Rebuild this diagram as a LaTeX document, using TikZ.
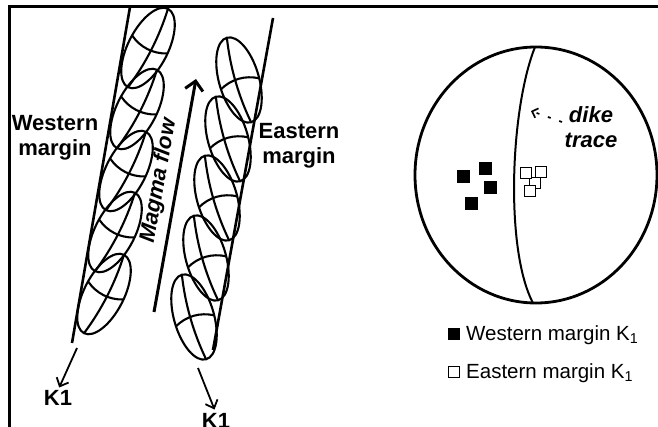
\documentclass[tikz,border=0pt]{standalone}
\usepackage{fontspec}
\setmainfont{Liberation Sans}
\usetikzlibrary{arrows.meta}

\begin{document}
\begin{tikzpicture}[x=1pt,y=-1pt,
  elip/.style={line width=2.1pt},
  rotulo/.style={font=\fontsize{22}{25}\selectfont\bfseries, align=center, inner sep=0pt},
  cursiva/.style={font=\fontsize{22}{25}\selectfont\bfseries\itshape, align=center, inner sep=0pt},
  leyenda/.style={font=\fontsize{20.5}{24}\selectfont, anchor=base west, inner sep=0pt},
  cuadro/.style={draw, minimum size=11pt, inner sep=0pt, line width=1pt}]
\useasboundingbox (0,0) rectangle (658,427);
% Marco
\draw[line width=3pt] (9,427) -- (9,7) -- (658,7);
% Bordes del dique
\coordinate (wn) at (130,7);
\coordinate (ws) at (72,343);
\coordinate (en) at (273,18);
\coordinate (es) at (213,350);
\draw[line width=2.6pt] (wn) -- (ws);
\draw[line width=2.6pt] (en) -- (es);
% Elipses del margen oeste
\foreach \cx/\cy in {148/48,137/109,126/171,115/232,104/294} {
  \begin{scope}[shift={(\cx,\cy)},rotate=63]
    \draw[elip] (0,0) ellipse [x radius=44,y radius=20];
    \draw[elip] (-44,0) .. controls (-15,5) and (15,5) .. (44,0);
    \draw[elip] (4,-20) .. controls (-3,-7) and (-3,7) .. (4,20);
  \end{scope}
}
% Elipses del margen este
\foreach \cx/\cy in {239/80,228/139,217/198,206/258,194/317} {
  \begin{scope}[shift={(\cx,\cy)},rotate=106]
    \draw[elip] (0,0) ellipse [x radius=44,y radius=20];
    \draw[elip] (-44,0) .. controls (-15,-5) and (15,-5) .. (44,0);
    \draw[elip] (-4,-20) .. controls (3,-7) and (3,7) .. (-4,20);
  \end{scope}
}
% Flujo
\coordinate (fa) at (154,312);
\coordinate (fb) at (196,79);
\draw[line width=3pt, -{Straight Barb[length=9pt,width=18pt]}] (fa) -- (fb);
\node[cursiva, rotate=80] (mf) at (159,181) {Magma flow};
% Rotulos de los margenes
\node[rotulo] (wm) at (55,138) {Western\\margin};
\node[rotulo] (em) at (299,146) {Eastern\\margin};
% K1
\coordinate (ka) at (77,348);
\node[rotulo] (k1w) at (58,398) {K1};
\draw[line width=1.8pt, -{Straight Barb[length=7pt,width=13pt]}, shorten >=3pt] (ka) -- (k1w.north);
\coordinate (kb) at (198,368);
\node[rotulo] (k1e) at (216,421) {K1};
\draw[line width=1.8pt, -{Straight Barb[length=7pt,width=13pt]}, shorten >=4pt] (kb) -- (k1e.north);
% Estereograma
\draw[line width=2.8pt] (536,175) ellipse [x radius=121,y radius=128];
\draw[line width=2pt] (535,47) .. controls (510,110) and (505,250) .. (533,303);
\node[cursiva] (dk) at (591,127) {dike\\trace};
\coordinate (dt) at (562,122);
\coordinate (dp) at (531,111);
\draw[line width=1.7pt, dash pattern=on 3pt off 9pt, -{Straight Barb[length=5pt,width=10pt]}] (dt) -- (dp);
% Polos oeste
\foreach \n/\x/\y in {1/463/177,2/485/169,3/490/188,4/471/204} {
  \node[cuadro, fill=black, minimum size=12pt] (w\n) at (\x,\y) {};
}
% Polos este
\foreach \n/\x/\y in {3/535/183,1/526/173,2/541/172,4/530/191} {
  \node[cuadro, fill=white] (e\n) at (\x,\y) {};
}
% Leyenda
\node[cuadro, fill=black] (lw) at (454,334) {};
\node[leyenda] (tw) at (466,340) {Western margin K\textsubscript{1}};
\node[cuadro, fill=white] (le) at (454,372) {};
\node[leyenda] (te) at (466,378) {Eastern margin K\textsubscript{1}};
\end{tikzpicture}
\end{document}
